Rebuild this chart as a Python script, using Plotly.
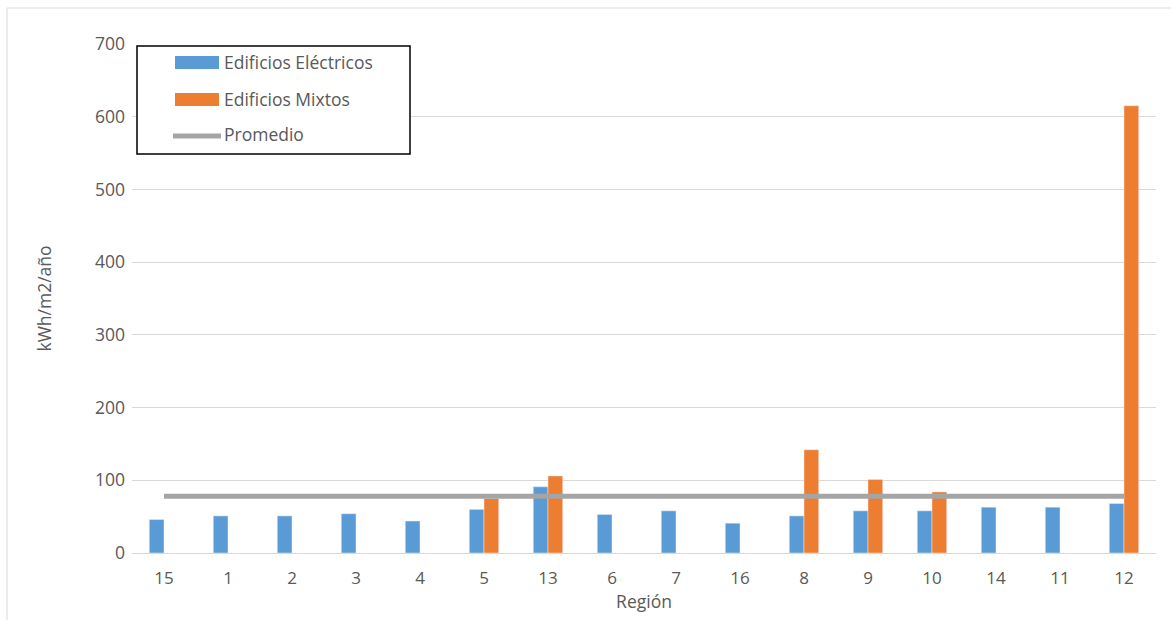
import plotly.graph_objects as go

regiones = ["15", "1", "2", "3", "4", "5", "13", "6", "7", "16", "8", "9", "10", "14", "11", "12"]
electricos = [46, 51, 51, 54, 44, 60, 91, 53, 58, 41, 51, 58, 58, 63, 63, 68]
mixtos = [None, None, None, None, None, 75, 106, None, None, None, 142, 101, 84, None, None, 615]
promedio = [78] * len(regiones)
y_ticks = [0, 100, 200, 300, 400, 500, 600, 700]

BLUE = "#5B9BD5"
ORANGE = "#ED7D31"
GRAY = "#A5A5A5"
TXT = "#595959"
FONT = "Open Sans"

fig = go.Figure()
fig.add_trace(go.Bar(x=regiones, y=electricos, name="Edificios Eléctricos",
                     marker_color=BLUE, showlegend=False))
fig.add_trace(go.Bar(x=regiones, y=mixtos, name="Edificios Mixtos",
                     marker_color=ORANGE, showlegend=False))
fig.add_trace(go.Scatter(x=regiones, y=promedio, name="Promedio", mode="lines",
                         line=dict(color=GRAY, width=5), showlegend=False))

W, H = 1171, 620
L, R, T, B = 132, 15, 44, 67
pw, ph = W - L - R, H - T - B

def px(x):
    return (x - L) / pw

def py(y):
    return 1 - (y - T) / ph

shapes = []
# outer chart border
shapes.append(dict(type="rect", xref="paper", yref="paper",
                   x0=px(7), x1=px(1180), y0=py(8), y1=py(640),
                   line=dict(color="#D9D9D9", width=1), fillcolor="rgba(0,0,0,0)", layer="below"))
# legend box
shapes.append(dict(type="rect", xref="paper", yref="paper",
                   x0=px(137), x1=px(410), y0=py(46), y1=py(154),
                   line=dict(color="black", width=1.5), fillcolor="white"))
# legend swatches
shapes.append(dict(type="rect", xref="paper", yref="paper",
                   x0=px(175), x1=px(219), y0=py(56), y1=py(69),
                   line=dict(width=0), fillcolor=BLUE))
shapes.append(dict(type="rect", xref="paper", yref="paper",
                   x0=px(175), x1=px(219), y0=py(93), y1=py(106),
                   line=dict(width=0), fillcolor=ORANGE))
shapes.append(dict(type="line", xref="paper", yref="paper",
                   x0=px(173), x1=px(221), y0=py(136), y1=py(136),
                   line=dict(color=GRAY, width=5)))

annotations = []
for name, yy in [("Edificios Eléctricos", 62), ("Edificios Mixtos", 99), ("Promedio", 134)]:
    annotations.append(dict(text=name, xref="paper", yref="paper", x=px(222), y=py(yy),
                            xanchor="left", yanchor="middle", showarrow=False,
                            font=dict(family=FONT, size=17.5, color=TXT)))

fig.update_layout(
    width=W, height=H,
    margin=dict(l=L, r=R, t=T, b=B),
    paper_bgcolor="white", plot_bgcolor="white",
    barmode="group", bargap=0.54, bargroupgap=0,
    font=dict(family=FONT, size=17, color=TXT),
    shapes=shapes, annotations=annotations,
    xaxis=dict(type="category", showgrid=False, showline=True, linecolor="#D9D9D9",
               linewidth=1, ticks="", tickfont=dict(size=17, color=TXT),
               ticklabelstandoff=10,
               title=dict(text="Región", font=dict(size=17.5, color=TXT), standoff=0)),
    yaxis=dict(range=[0, 700], tickvals=y_ticks, showgrid=True, gridcolor="#D9D9D9",
               gridwidth=1, zeroline=False, showline=False, ticks="",
               tickfont=dict(size=17.5, color=TXT), ticklabelstandoff=6,
               title=dict(text="kWh/m2/año", font=dict(size=17.5, color=TXT), standoff=38)),
)

fig.write_html("out.html", config={"displayModeBar": False},
               post_script="document.body.style.margin='0';document.body.style.overflow='hidden';")
